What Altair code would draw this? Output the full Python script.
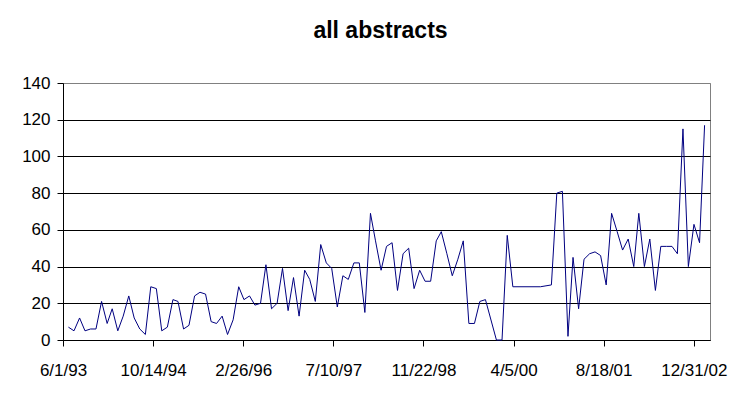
import altair as alt
import pandas as pd

dates = [
    "1993-07-01", "1993-08-01", "1993-09-01", "1993-10-01", "1993-11-01", "1993-12-01",
    "1994-01-01", "1994-02-01", "1994-03-01", "1994-04-01", "1994-05-01", "1994-06-01",
    "1994-07-01", "1994-08-01", "1994-09-01", "1994-10-01", "1994-11-01", "1994-12-01",
    "1995-01-01", "1995-02-01", "1995-03-01", "1995-04-01", "1995-05-01", "1995-06-01",
    "1995-07-01", "1995-08-01", "1995-09-01", "1995-10-01", "1995-11-01", "1995-12-01",
    "1996-01-01", "1996-02-01", "1996-03-01", "1996-04-01", "1996-05-01", "1996-06-01",
    "1996-07-01", "1996-08-01", "1996-09-01", "1996-10-01", "1996-11-01", "1996-12-01",
    "1997-01-01", "1997-02-01", "1997-03-01", "1997-04-01", "1997-05-01", "1997-06-01",
    "1997-07-01", "1997-08-01", "1997-09-01", "1997-10-01", "1997-11-01", "1997-12-01",
    "1998-01-01", "1998-02-01", "1998-03-01", "1998-04-01", "1998-05-01", "1998-06-01",
    "1998-07-01", "1998-08-01", "1998-09-01", "1998-10-01", "1998-11-01", "1998-12-01",
    "1999-01-01", "1999-02-01", "1999-03-01", "1999-04-01", "1999-05-01", "1999-06-01",
    "1999-07-01", "1999-08-01", "1999-09-01", "1999-10-01", "1999-11-01",
    "2000-01-01", "2000-02-01", "2000-03-01", "2000-04-01",
    "2000-09-01", "2000-11-01", "2000-12-01",
    "2001-01-01", "2001-02-01", "2001-03-01", "2001-04-01", "2001-05-01", "2001-06-01",
    "2001-07-01", "2001-08-01", "2001-09-01", "2001-10-01", "2001-11-01", "2001-12-01",
    "2002-01-01", "2002-02-01", "2002-03-01", "2002-04-01", "2002-05-01", "2002-06-01",
    "2002-07-01", "2002-08-01", "2002-09-01", "2002-10-01", "2002-11-01", "2002-12-01",
    "2003-01-01", "2003-02-01", "2003-03-01",
]

counts = [
    7, 5, 12, 5, 6, 6,
    21, 9, 17, 5, 13, 24,
    12, 6, 3, 29, 28, 5,
    7, 22, 21, 6, 8, 24,
    26, 25, 10, 9, 13, 3,
    11, 29, 22, 24, 19, 20,
    41, 17, 20, 39, 16, 34,
    13, 38, 33, 21, 52, 42,
    39, 18, 35, 33, 42, 42,
    15, 69, 54, 38, 51, 53,
    27, 47, 50, 28, 38, 32,
    32, 54, 59, 47, 35, 44,
    54, 9, 9, 21, 22,
    0, 0, 57, 29,
    29, 30, 80,
    81, 2, 45, 17, 44, 47,
    48, 46, 30, 69, 59, 49,
    55, 40, 69, 40, 55, 27,
    51, 51, 51, 47, 115, 40,
    63, 53, 117,
]

x_tick_dates = ["1993-06-01", "1994-10-14", "1996-02-26", "1997-07-10",
                "1998-11-22", "2000-04-05", "2001-08-18", "2002-12-31"]
x_domain_dates = ["1993-06-01", "2003-03-31"]
y_ticks = [0, 20, 40, 60, 80, 100, 120, 140]


def to_ms(d):
    return int(pd.Timestamp(d, tz="UTC").value // 10**6)


first_tick = to_ms(x_tick_dates[0])

df = pd.DataFrame({"date": dates, "count": counts})

chart = alt.Chart(df).mark_line(color="#000080", strokeWidth=1).encode(
    x=alt.X(
        "date:T",
        scale=alt.Scale(type="utc", domain=[to_ms(d) for d in x_domain_dates]),
        axis=alt.Axis(
            values=[to_ms(d) for d in x_tick_dates],
            labelExpr="utcFormat(datum.value, '%-m/%-d/%y')",
            labelAlign={"condition": {"test": f"datum.value === {first_tick}", "value": "right"},
                        "value": "center"},
            labelOffset={"condition": {"test": f"datum.value === {first_tick}", "value": -3},
                         "value": 0},
            grid=False,
            tickSize=6,
            labelPadding=16,
            labelOverlap=False,
            labelFlush=False,
            title=None,
        ),
    ),
    y=alt.Y(
        "count:Q",
        scale=alt.Scale(domain=[0, 140], nice=False),
        axis=alt.Axis(
            values=y_ticks,
            grid=True,
            gridColor={"condition": {"test": "datum.value === 140", "value": "#808080"}, "value": "#000000"},
            gridWidth=1,
            tickSize=6,
            labelPadding=7,
            title=None,
        ),
    ),
).properties(
    width=647,
    height=257,
    autosize=alt.AutoSizeParams(type="none"),
    padding={"left": 55, "top": 75, "right": 38, "bottom": 40},
    title=alt.Title("all abstracts", fontSize=23, fontWeight="bold",
                    font="Liberation Sans", anchor="middle", offset=31, dx=-6, color="#000000"),
).configure_view(
    stroke="#808080", strokeWidth=1
).configure_axis(
    labelFont="Liberation Sans",
    labelFontSize=17,
    labelColor="#000000",
    domainColor="#000000",
    tickColor="#000000",
    domainWidth=1,
    tickWidth=1,
)

chart.save("out.html", embed_options={"renderer": "svg", "actions": False})
